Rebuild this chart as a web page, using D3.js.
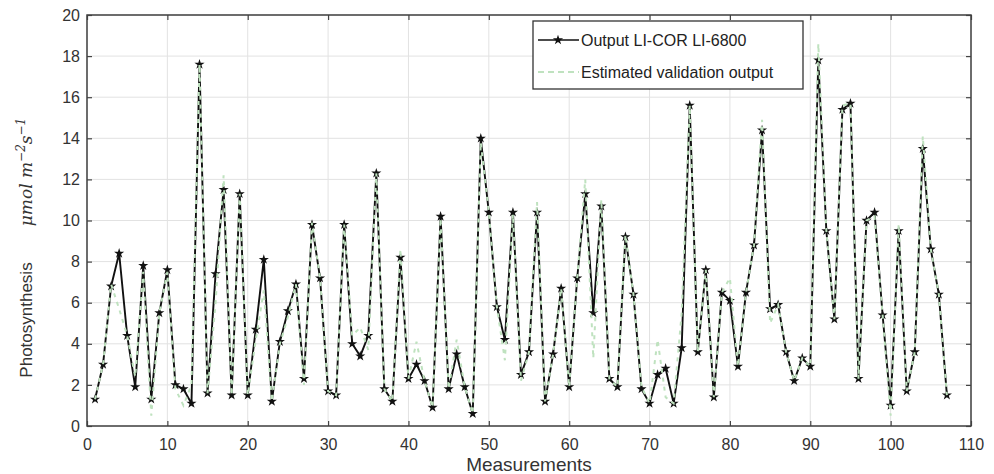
<!DOCTYPE html>
<html>
<head>
<meta charset="utf-8">
<script src="https://cdn.jsdelivr.net/npm/d3@7"></script>
<style>
  body { margin: 0; background: #fff; }
  text { font-family: "Liberation Sans", Arial, sans-serif; }
</style>
</head>
<body>
<div id="chart"></div>
<script>
// measurement index 1..107
var measurements = d3.range(1, 108);

// Output LI-COR LI-6800
var licor = [1.3,3.0,6.8,8.4,4.4,1.9,7.8,1.3,5.5,7.6,
             2.0,1.8,1.1,17.6,1.6,7.4,11.5,1.5,11.3,1.5,
             4.7,8.1,1.2,4.1,5.6,6.9,2.3,9.8,7.2,1.7,
             1.5,9.8,4.0,3.4,4.4,12.3,1.8,1.2,8.2,2.3,
             3.0,2.2,0.9,10.2,1.8,3.5,1.9,0.6,14.0,10.4,
             5.8,4.2,10.4,2.5,3.6,10.4,1.2,3.5,6.7,1.9,
             7.2,11.3,5.5,10.7,2.3,1.9,9.2,6.4,1.8,1.1,
             2.5,2.8,1.1,3.8,15.6,3.6,7.6,1.4,6.5,6.1,
             2.9,6.5,8.8,14.4,5.7,5.9,3.6,2.2,3.3,2.9,
             17.8,9.5,5.2,15.4,15.7,2.3,10.0,10.4,5.4,1.0,
             9.5,1.7,3.6,13.5,8.6,6.4,1.5];

// Estimated validation output
var estimated = [1.3,3.0,6.9,5.7,4.4,2.4,7.5,0.5,5.5,7.5,
                 1.8,1.0,2.0,17.6,1.6,6.0,12.2,1.5,11.3,1.5,
                 4.2,6.6,1.2,4.0,5.3,6.9,2.0,9.9,7.2,1.7,
                 1.5,9.8,4.4,4.8,3.7,12.3,1.8,1.2,8.6,2.3,
                 4.1,2.2,0.9,10.1,1.8,4.2,1.9,0.6,13.8,10.4,
                 5.8,3.2,10.3,2.2,3.6,10.9,1.2,3.5,6.7,1.9,
                 7.2,12.0,3.3,11.0,2.3,1.9,9.3,6.4,1.9,1.1,
                 4.2,1.4,1.1,5.5,15.6,3.6,7.6,1.4,6.5,7.2,
                 2.9,6.5,8.8,14.9,5.0,5.9,3.6,2.2,3.3,2.9,
                 18.6,9.5,5.2,15.6,15.7,2.3,10.0,10.2,5.4,0.5,
                 9.8,1.7,3.6,14.1,8.6,6.4,1.5];

var xTicks = d3.range(0, 111, 10);
var yTicks = d3.range(0, 21, 2);

var width = 994,
    height = 474,
    pLeft = 87, pRight = 971, pTop = 15, pBottom = 426;

var svg = d3.select('#chart').append('svg')
    .attr('width', width)
    .attr('height', height);

var x = d3.scaleLinear().domain([0, 110]).range([pLeft, pRight]);
var y = d3.scaleLinear().domain([0, 20]).range([pBottom, pTop]);

// grid
svg.append('g').selectAll('line')
    .data(xTicks).enter().append('line')
    .attr('x1', function(d){ return x(d); })
    .attr('x2', function(d){ return x(d); })
    .attr('y1', pTop).attr('y2', pBottom)
    .style('stroke', '#e2e2e2');
svg.append('g').selectAll('line')
    .data(yTicks).enter().append('line')
    .attr('y1', function(d){ return y(d); })
    .attr('y2', function(d){ return y(d); })
    .attr('x1', pLeft).attr('x2', pRight)
    .style('stroke', '#e2e2e2');

// axes, ticks pointing inward like matlab
var gx = svg.append('g').attr('transform', 'translate(0,' + pBottom + ')')
    .call(d3.axisBottom(x).tickValues(xTicks).tickSizeInner(-5).tickSizeOuter(0).tickPadding(13));
var gxt = svg.append('g').attr('transform', 'translate(0,' + pTop + ')')
    .call(d3.axisTop(x).tickValues(xTicks).tickSizeInner(-5).tickSizeOuter(0).tickFormat(''));
var gy = svg.append('g').attr('transform', 'translate(' + pLeft + ',0)')
    .call(d3.axisLeft(y).tickValues(yTicks).tickSizeInner(-5).tickSizeOuter(0).tickPadding(7));
var gyr = svg.append('g').attr('transform', 'translate(' + pRight + ',0)')
    .call(d3.axisRight(y).tickValues(yTicks).tickSizeInner(-5).tickSizeOuter(0).tickFormat(''));

[gx, gxt, gy, gyr].forEach(function(g){
    g.select('.domain').remove();
    g.selectAll('.tick line').style('stroke', '#444').style('stroke-width', 1.2);
    g.selectAll('.tick text').style('font-size', '16px').style('fill', '#333')
        .style('font-family', '"Liberation Sans", Arial, sans-serif');
});

// frame
svg.append('rect')
    .attr('x', pLeft).attr('y', pTop)
    .attr('width', pRight - pLeft).attr('height', pBottom - pTop)
    .style('fill', 'none').style('stroke', '#404040').style('stroke-width', 1.5);

// lines
var lineMain = d3.line()
    .x(function(d, i){ return x(measurements[i]); })
    .y(function(d){ return y(d); });

svg.append('path')
    .datum(licor)
    .attr('d', lineMain)
    .style('fill', 'none')
    .style('stroke', '#111')
    .style('stroke-width', 1.9);

var star = d3.symbol().type(d3.symbolStar).size(32);
svg.append('g').selectAll('path')
    .data(licor).enter().append('path')
    .attr('d', star)
    .attr('transform', function(d, i){ return 'translate(' + x(measurements[i]) + ',' + y(d) + ')'; })
    .style('fill', '#111');

svg.append('path')
    .datum(estimated)
    .attr('d', lineMain)
    .style('fill', 'none')
    .style('stroke', '#bfe2bf')
    .style('stroke-width', 2)
    .style('stroke-dasharray', '4,5');

// legend
var lg = svg.append('g');
lg.append('rect')
    .attr('x', 533).attr('y', 21).attr('width', 270).attr('height', 68)
    .style('fill', '#fff').style('stroke', '#333').style('stroke-width', 1.3);
lg.append('line')
    .attr('x1', 538).attr('x2', 579).attr('y1', 40).attr('y2', 40)
    .style('stroke', '#111').style('stroke-width', 1.6);
lg.append('path')
    .attr('d', star)
    .attr('transform', 'translate(558,40)')
    .style('fill', '#111');
lg.append('line')
    .attr('x1', 538).attr('x2', 579).attr('y1', 72).attr('y2', 72)
    .style('stroke', '#bfe2bf').style('stroke-width', 2).style('stroke-dasharray', '6,4');
lg.append('text')
    .attr('x', 581).attr('y', 46)
    .style('font-size', '16px').style('fill', '#222')
    .text('Output LI-COR LI-6800');
lg.append('text')
    .attr('x', 581).attr('y', 78)
    .style('font-size', '16px').style('fill', '#222')
    .text('Estimated validation output');

// axis labels
svg.append('text')
    .attr('x', 529).attr('y', 471)
    .attr('text-anchor', 'middle')
    .style('font-size', '19px').style('fill', '#333')
    .text('Measurements');

svg.append('text')
    .attr('transform', 'translate(32,320) rotate(-90)')
    .attr('text-anchor', 'middle')
    .style('font-size', '17px').style('fill', '#333')
    .text('Photosynthesis');

var unit = svg.append('text')
    .attr('transform', 'translate(32,172) rotate(-90)')
    .attr('text-anchor', 'middle')
    .style('font-size', '17px').style('fill', '#333')
    .style('font-family', '"DejaVu Serif", "Liberation Serif", serif')
    .style('font-style', 'italic');
unit.append('tspan').text('\u03bcmol m');
unit.append('tspan').attr('dy', -7).style('font-size', '12px').text('\u22122');
unit.append('tspan').attr('dy', 7).text('s');
unit.append('tspan').attr('dy', -7).style('font-size', '12px').text('\u22121');
</script>
</body>
</html>
